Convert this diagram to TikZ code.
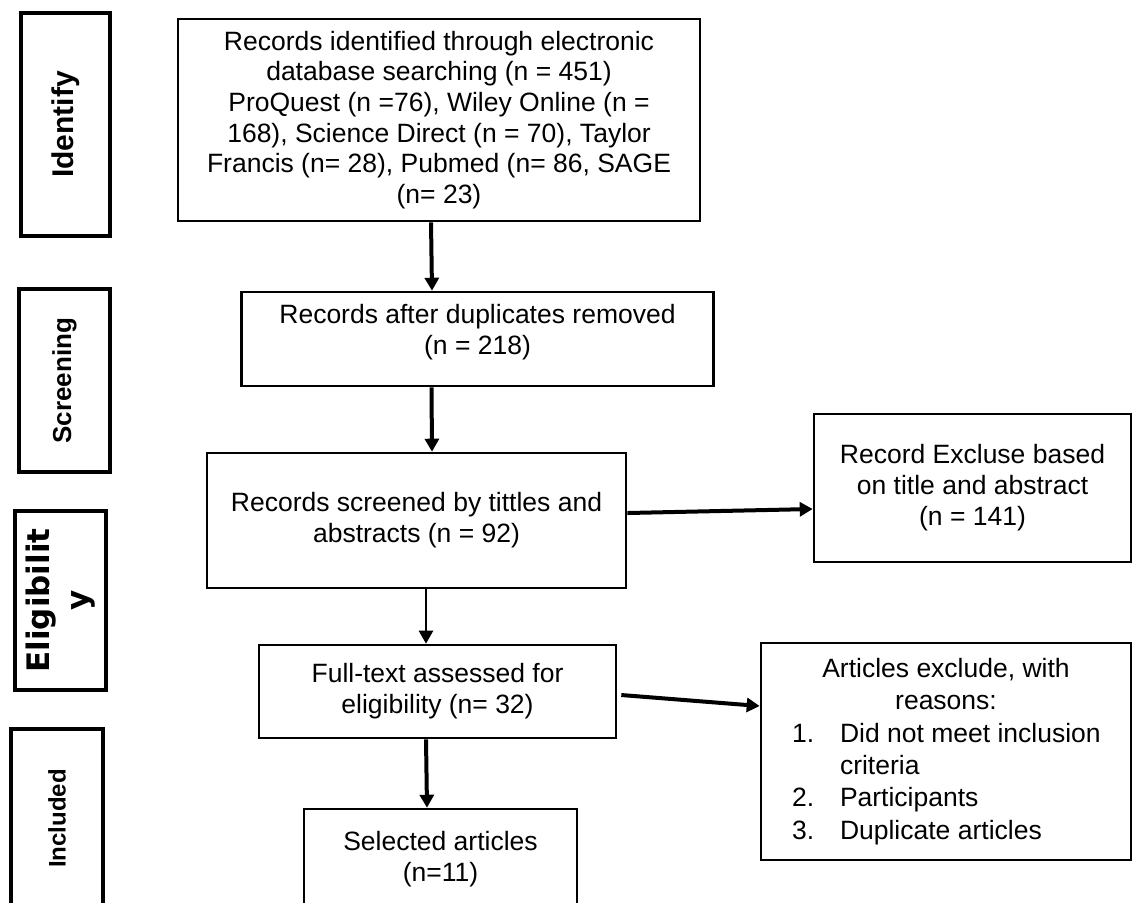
\documentclass[tikz,border=0pt]{standalone}
\usepackage{fontspec}
\setmainfont{Liberation Sans}
\newfontfamily\eligfont{DejaVu Sans}
\usetikzlibrary{arrows.meta}
\newcommand\exitem[2]{\makebox[154pt][l]{\makebox[24pt][l]{#1}#2}}

\begin{document}
\begin{tikzpicture}[
    x=0.5pt, y=-0.5pt,
    box/.style={draw, line width=1.3pt, inner sep=0pt, align=center,
        font=\fontsize{13.25}{15.5}\selectfont},
    phase/.style={draw, line width=2pt, inner sep=0pt, rotate=90, align=center,
        font=\bfseries\fontsize{13}{15}\selectfont},
    arr/.style={-{Triangle[length=6.5pt, width=7pt]}, line width=2pt},
    arrthin/.style={arr, line width=1.25pt}]

% --- page
\clip (0,0) rectangle (1133,902);

% --- phases on the left
\node[phase, minimum width=111.5pt, minimum height=44.5pt,
    font=\bfseries\fontsize{15}{17}\selectfont] (identify) at (65.5,124.5) {Identify};
\node[phase, minimum width=91.5pt, minimum height=45.5pt] (screening) at (64.5,380.5) {Screening};
\node[phase, minimum width=89.5pt, minimum height=45.5pt,
    font=\eligfont\bfseries\fontsize{15.5}{19.5}\selectfont] (eligibility) at (60.5,600.5) {Eligibilit\\y};
\node[phase, minimum width=89.5pt, minimum height=46pt,
    font=\bfseries\fontsize{12}{14}\selectfont] (included) at (57,818.5) {Included};

% --- main column
\node[box, minimum width=261pt, minimum height=101pt,
    font=\fontsize{13.25}{15.3}\selectfont] (found) at (439,120)
    {Records identified through electronic\\database searching (n = 451)\\ProQuest (n =76), Wiley Online (n =\\168), Science Direct (n = 70), Taylor\\Francis (n= 28), Pubmed (n= 86, SAGE\\(n= 23)};
\node[box, minimum width=236pt, minimum height=47pt] (dedup) at (477.5,339)
    {Records after duplicates removed\\(n = 218)\\[-6pt]};
\node[box, minimum width=209.5pt, minimum height=67.5pt] (screened) at (416.5,520.5)
    {Records screened by tittles and\\abstracts (n = 92)};
\node[box, minimum width=178.5pt, minimum height=46.5pt] (fulltext) at (437.5,691.5)
    {Full-text assessed for\\eligibility (n= 32)};
\node[box, minimum width=136.5pt, minimum height=50pt] (selected) at (440.5,859)
    {Selected articles\\(n=11)};

% --- exclusions
\node[box, minimum width=158.5pt, minimum height=74pt] (excluded) at (972.5,488)
    {Record Excluse based\\on title and abstract\\(n = 141)};
\node[box, minimum width=185pt, minimum height=108.5pt,
    font=\fontsize{13.25}{16.2}\selectfont] (reasons) at (946,751.5)
    {Articles exclude, with\\reasons:\\
     \exitem{1.}{Did not meet inclusion}\\
     \exitem{}{criteria}\\
     \exitem{2.}{Participants}\\
     \exitem{3.}{Duplicate articles}};

% --- arrows
\draw[arr] ([xshift=-4pt]found.south) -- ([xshift=-22.75pt]dedup.north);
\draw[arr] ([xshift=-23pt]dedup.south) -- ([xshift=7.75pt]screened.north);
\draw[arr] ([yshift=3.75pt]screened.east) -- ([yshift=-10.5pt]excluded.west);
\draw[arrthin] ([xshift=4.75pt]screened.south) -- ([xshift=-5.75pt]fulltext.north);
\draw[arr] ([xshift=2pt,yshift=-1.75pt]fulltext.east) -- ([yshift=22.75pt]reasons.west);
\draw[arr] ([xshift=-5.75pt]fulltext.south) -- ([xshift=-6.75pt]selected.north);
\end{tikzpicture}
\end{document}
